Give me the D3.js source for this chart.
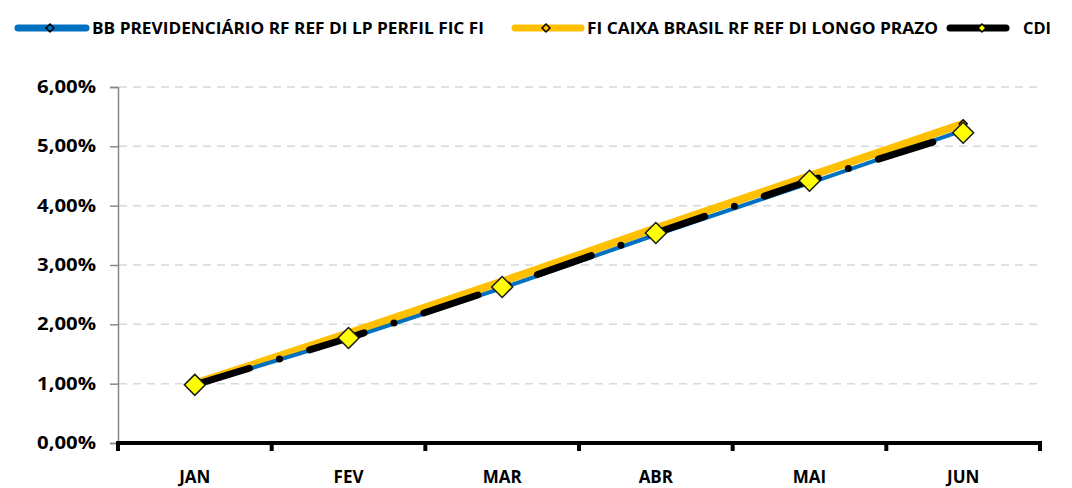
<!DOCTYPE html>
<html>
<head>
<meta charset="utf-8">
<script src="https://cdn.jsdelivr.net/npm/d3@7"></script>
<style>
  body { margin: 0; background: #fff; }
  text { font-family: "Open Sans", sans-serif; font-weight: 700; fill: #000; }
</style>
</head>
<body>
<svg id="chart"></svg>
<script>
const months = ["JAN", "FEV", "MAR", "ABR", "MAI", "JUN"];
const bbPrev = [0.97, 1.76, 2.61, 3.51, 4.38, 5.27];
const caixa = [1.00, 1.85, 2.72, 3.62, 4.50, 5.38];
const cdi = [0.98, 1.77, 2.63, 3.54, 4.42, 5.23];
const yTicks = [0, 1, 2, 3, 4, 5, 6];
const seriesNames = ["BB PREVIDENCIÁRIO RF REF DI LP PERFIL FIC FI", "FI CAIXA BRASIL RF REF DI LONGO PRAZO", "CDI"];

const width = 1072,
      height = 488,
      svg = d3.select("#chart").attr("width", width).attr("height", height);

const x = d3.scaleBand().domain(months).range([118, 1040]);
const y = d3.scaleLinear().domain([0, 6]).range([443, 87]);

// gridlines
svg.append("g").selectAll("line")
    .data(yTicks.filter(d => d > 0))
    .enter().append("line")
        .attr("x1", 119).attr("x2", 1040)
        .attr("y1", d => y(d)).attr("y2", d => y(d))
        .attr("stroke", "#d9d9d9")
        .attr("stroke-width", 1.5)
        .attr("stroke-dasharray", "8,6");

// y axis
const yAxis = svg.append("g")
    .attr("transform", "translate(118,0)")
    .call(d3.axisLeft(y).tickValues(yTicks).tickSize(8).tickPadding(14)
        .tickFormat(d => d3.format(".2f")(d).replace(".", ",") + "%"));
yAxis.select(".domain").attr("stroke", "#888").attr("stroke-width", 1.5);
yAxis.selectAll(".tick line").attr("stroke", "#888").attr("stroke-width", 1.5);
yAxis.selectAll("text").attr("font-size", 17).attr("fill", "#000")
    .style("font-family", "'Open Sans', sans-serif").style("font-weight", "700")
    .attr("textLength", 59).attr("lengthAdjust", "spacingAndGlyphs");

// x axis
svg.append("line")
    .attr("x1", 116).attr("x2", 1042)
    .attr("y1", 443).attr("y2", 443)
    .attr("stroke", "#000").attr("stroke-width", 4);
svg.append("g").selectAll("line")
    .data(months.concat(["end"]))
    .enter().append("line")
        .attr("x1", (d, i) => i < months.length ? x(d) : x.range()[1])
        .attr("x2", (d, i) => i < months.length ? x(d) : x.range()[1])
        .attr("y1", 443).attr("y2", 451)
        .attr("stroke", "#000").attr("stroke-width", 4);
svg.append("g").selectAll("text")
    .data(months)
    .enter().append("text")
        .attr("x", d => x(d) + x.bandwidth() / 2)
        .attr("y", 483)
        .attr("text-anchor", "middle")
        .attr("font-size", 17)
        .text(d => d);

const line = d3.line()
    .x((d, i) => x(months[i]) + x.bandwidth() / 2)
    .y(d => y(d));

// series lines
svg.append("path").datum(caixa)
    .attr("d", line).attr("fill", "none")
    .attr("stroke", "#ffc000").attr("stroke-width", 8);
svg.append("path").datum(bbPrev)
    .attr("d", line).attr("fill", "none")
    .attr("stroke", "#0070c0").attr("stroke-width", 4);
svg.append("path").datum(cdi)
    .attr("d", line).attr("fill", "none")
    .attr("stroke", "#000").attr("stroke-width", 7)
    .attr("stroke-linecap", "round")
    .attr("stroke-dasharray", "57,31.5,0,31.5");

const diamond = d3.symbol().type(d3.symbolDiamond2);

// small markers (mostly hidden behind CDI markers)
[[bbPrev, "#0070c0", 40], [caixa, "#ffc000", 40]].forEach(([vals, c, s]) => {
    svg.append("g").selectAll("path")
        .data(vals)
        .enter().append("path")
            .attr("transform", (d, i) => `translate(${x(months[i]) + x.bandwidth() / 2},${y(d)})`)
            .attr("d", diamond.size(s)())
            .attr("fill", c).attr("stroke", "#000").attr("stroke-width", 1.5);
});
svg.append("g").selectAll("path")
    .data(cdi)
    .enter().append("path")
        .attr("transform", (d, i) => `translate(${x(months[i]) + x.bandwidth() / 2},${y(d)})`)
        .attr("d", diamond.size(280)())
        .attr("fill", "#ffff00").attr("stroke", "#1a1a1a").attr("stroke-width", 1.5);

// legend
const legend = [
    {name: seriesNames[0], x1: 18, x2: 86, tx: 92, tw: 392, stroke: "#0070c0", fill: "#0070c0", mk: 50},
    {name: seriesNames[1], x1: 515, x2: 581, tx: 587, tw: 351, stroke: "#ffc000", fill: "#ffc000", mk: 546},
    {name: seriesNames[2], x1: 950, x2: 1006, tx: 1023, tw: 28, stroke: "#000", fill: "#ffff00", mk: 982}
];
const lg = svg.append("g").selectAll("g").data(legend).enter().append("g");
lg.append("line")
    .attr("x1", d => d.x1).attr("x2", d => d.x2)
    .attr("y1", 28).attr("y2", 28)
    .attr("stroke", d => d.stroke).attr("stroke-width", 7)
    .attr("stroke-linecap", "round");
lg.append("path")
    .attr("transform", d => `translate(${d.mk},28)`)
    .attr("d", diamond.size(40)())
    .attr("fill", d => d.fill).attr("stroke", "#000").attr("stroke-width", 1.5);
lg.append("text")
    .attr("x", d => d.tx).attr("y", 34)
    .attr("font-size", 16)
    .attr("textLength", d => d.tw)
    .attr("lengthAdjust", "spacingAndGlyphs")
    .text(d => d.name);
</script>
</body>
</html>
